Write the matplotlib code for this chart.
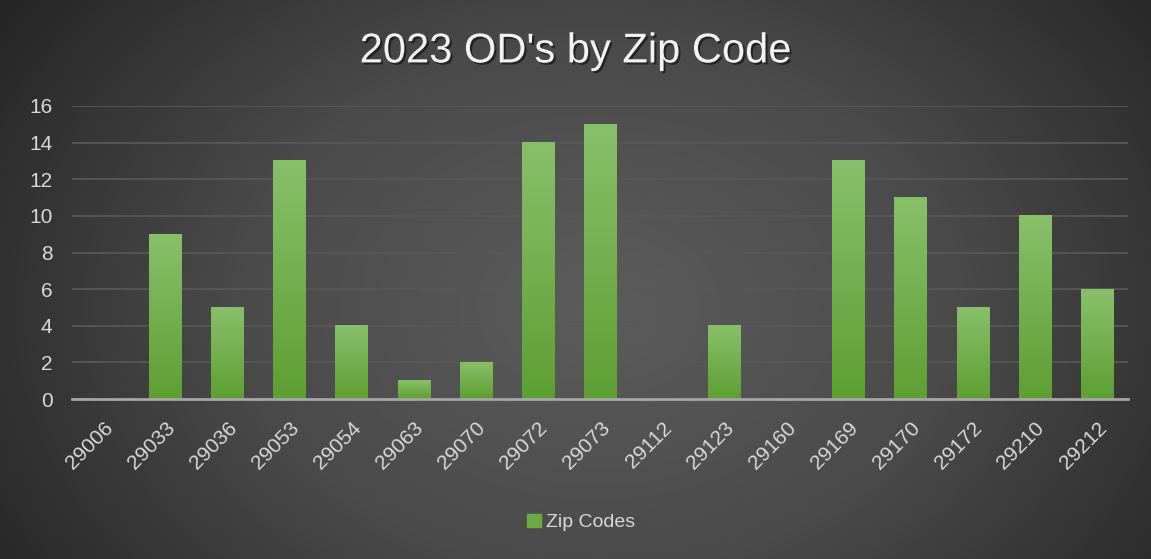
"""
2023 OD's by Zip Code — bar chart on a dark gradient background
"""
import matplotlib
matplotlib.use("Agg")
import matplotlib.pyplot as plt
import matplotlib.patheffects as pe
import numpy as np
from matplotlib.colors import LinearSegmentedColormap

plt.rcParams["font.family"] = ["Liberation Sans", "DejaVu Sans"]

zip_codes = ["29006", "29033", "29036", "29053", "29054", "29063", "29070",
             "29072", "29073", "29112", "29123", "29160", "29169", "29170",
             "29172", "29210", "29212"]
counts = [0, 9, 5, 13, 4, 1, 2, 14, 15, 0, 4, 0, 13, 11, 5, 10, 6]

TEXT = "#d9d9d9"
BAR_TOP = "#88c06a"
BAR_BOT = "#5e9f32"

fig = plt.figure(figsize=(11.51, 5.59), dpi=100)

# radial background
bg = fig.add_axes([0, 0, 1, 1], zorder=-10)
yy, xx = np.mgrid[0:1:300j, 0:1:600j]
r = np.sqrt(((xx - 0.52) / 0.62) ** 2 + ((yy - 0.45) / 0.95) ** 2)
r = np.clip(r, 0, 1)
bg_cmap = LinearSegmentedColormap.from_list("bg", ["#5c5c5c", "#4a4a4a", "#262626"])
bg.imshow(r, cmap=bg_cmap, extent=[0, 1, 0, 1], aspect="auto", origin="lower")
bg.axis("off")
bg.set_xlim(0, 1)
bg.set_ylim(0, 1)

ax = fig.add_axes([0.0626, 0.2862, 0.9174, 0.5242])
ax.patch.set_alpha(0)
x = np.arange(len(zip_codes))
width = 0.52

bar_cmap = LinearSegmentedColormap.from_list("bar", [BAR_BOT, BAR_TOP])
grad = np.linspace(0, 1, 100).reshape(-1, 1)
bars = ax.bar(x, counts, width, color="none", label="Zip Codes")
for xi, h in zip(x, counts):
    if h <= 0:
        continue
    ax.imshow(grad, cmap=bar_cmap, extent=[xi - width / 2, xi + width / 2, 0, h],
              aspect="auto", origin="lower", zorder=3)

ax.set_xlim(-0.5, len(zip_codes) - 0.5)
ax.set_ylim(0, 16)
ax.set_yticks(range(0, 17, 2))
ax.yaxis.grid(True, color="#585858", linewidth=1.3)
ax.set_axisbelow(True)
for s in ["top", "right", "left"]:
    ax.spines[s].set_visible(False)
ax.spines["bottom"].set_color("#a6a6a6")
ax.spines["bottom"].set_linewidth(2)
ax.spines["bottom"].set_zorder(4)
ax.tick_params(axis="both", length=0, colors=TEXT, labelsize=15)
ax.tick_params(axis="y", pad=14)
ax.set_xticks(x)
ax.set_xticklabels(zip_codes, rotation=45, ha="right", rotation_mode="anchor")
ax.tick_params(axis="x", pad=14)

fig.text(0.5, 0.908, "2023 OD's by Zip Code", ha="center", va="center",
         color="#f2f2f2", fontsize=30,
         path_effects=[pe.withSimplePatchShadow(offset=(1.5, -1.5), shadow_rgbFace="black", alpha=0.5)])

handle = plt.Rectangle((0, 0), 1, 1, color="#6aab44")
fig.legend([handle], ["Zip Codes"], loc="center", bbox_to_anchor=(0.505, 0.065),
           frameon=False, fontsize=14, labelcolor=TEXT, handlelength=0.7,
           handleheight=0.7, handletextpad=0.3)

fig.savefig("out.png", dpi=100)
